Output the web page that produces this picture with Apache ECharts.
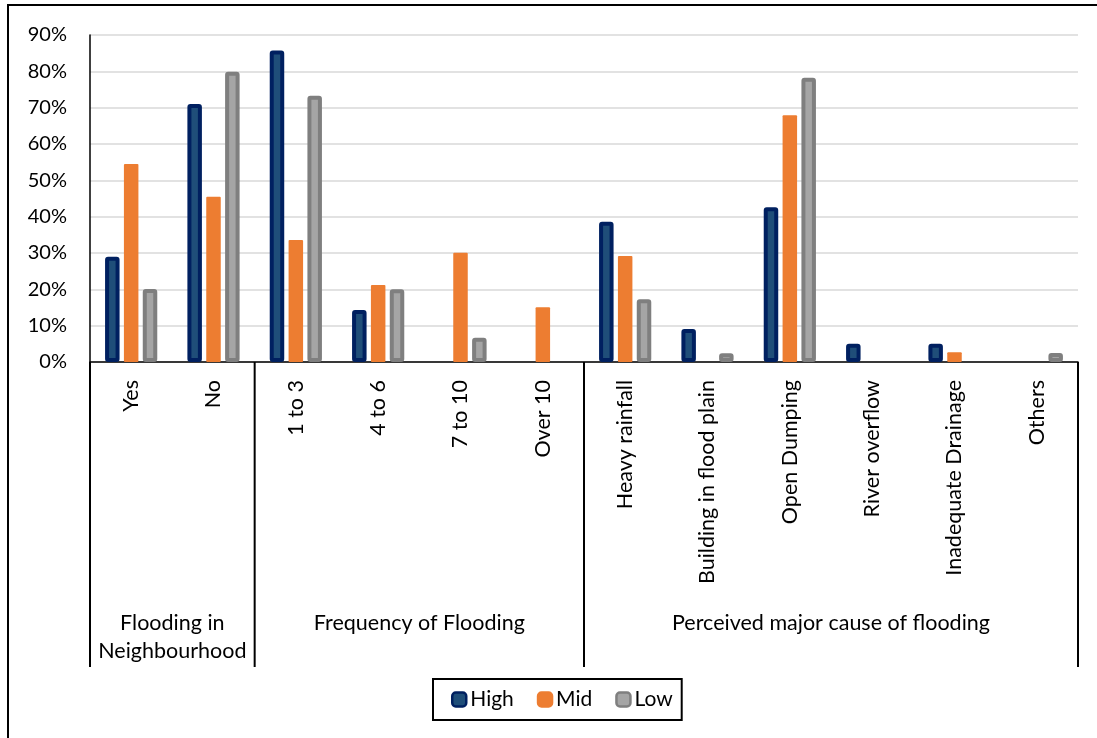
<!DOCTYPE html>
<html>
<head>
<meta charset="utf-8">
<script src="https://cdn.jsdelivr.net/npm/echarts@6/dist/echarts.min.js"></script>
<style>
  html, body { margin: 0; padding: 0; background: #fff; }
  #chart { width: 1097px; height: 738px; }
</style>
</head>
<body>
<div id="chart"></div>
<script>
// Survey categories (lower axis level) and their parent groups (upper level)
const categories = ['Yes', 'No', '1 to 3', '4 to 6', '7 to 10', 'Over 10',
  'Heavy rainfall', 'Building in flood plain', 'Open Dumping',
  'River overflow', 'Inadequate Drainage', 'Others'];
const groupLabels = ['Flooding in\nNeighbourhood', 'Frequency of Flooding', 'Perceived major cause of flooding'];
const groupSizes = [2, 4, 6];

// Share of respondents (%) per risk zone
const seriesNames = ['High', 'Mid', 'Low'];
const highValues = [29.0, 71.0, 85.7, 14.3, 0, 0, 38.6, 9.1, 42.6, 5.0, 5.0, 0];
const midValues  = [54.5, 45.5, 33.6, 21.2, 30.1, 15.1, 29.2, 0, 67.9, 0, 2.7, 0];
const lowValues  = [20.1, 79.9, 73.3, 20.0, 6.7, 0, 17.3, 2.4, 78.2, 0, 0, 2.5];

// Y axis ticks
const yMin = 0, yMax = 90, yStep = 10;

const FONT = 'Lato, "Liberation Sans", sans-serif';
const chart = echarts.init(document.getElementById('chart'), null, { renderer: 'canvas' });

// empty categories draw no bar at all
const toBars = arr => arr.map(v => (v === 0 ? null : v));

const styles = [
  { color: '#1F4E79', borderColor: '#002060', borderWidth: 4 },
  { color: '#ED7D31', borderColor: '#ED7D31', borderWidth: 0 },
  { color: '#A5A5A5', borderColor: '#7F7F7F', borderWidth: 4 }
];
const valueSets = [highValues, midValues, lowValues];

const grid = { left: 90, right: 19, top: 35, bottom: 376 };

chart.setOption({
  animation: false,
  backgroundColor: '#fff',
  textStyle: { fontFamily: FONT },
  grid: grid,
  legend: {
    data: seriesNames,
    left: 433,
    top: 679,
    orient: 'horizontal',
    itemWidth: 14,
    itemHeight: 14,
    itemGap: 23,
    padding: [10, 9, 10, 18],
    borderColor: '#000',
    borderWidth: 2,
    textStyle: { fontFamily: FONT, fontSize: 21, color: '#000', padding: [0, 0, 0, -1] },
    itemStyle: { borderWidth: 2.5 }
  },
  xAxis: {
    type: 'category',
    data: categories,
    axisLine: { show: true, lineStyle: { color: '#000', width: 1.5 } },
    axisTick: { show: false },
    splitLine: { show: false },
    axisLabel: {
      interval: 0,
      rotate: 90,
      margin: 18,
      fontFamily: FONT,
      fontSize: 21.5,
      color: '#000'
    }
  },
  yAxis: {
    type: 'value',
    min: yMin,
    max: yMax,
    interval: yStep,
    axisLine: { show: true, lineStyle: { color: '#000', width: 1.5 } },
    axisTick: { show: false },
    splitLine: { show: true, lineStyle: { color: '#D9D9D9', width: 1.5 } },
    axisLabel: {
      formatter: '{value}%',
      margin: 23,
      fontFamily: FONT,
      fontSize: 20,
      color: '#000'
    }
  },
  series: seriesNames.map((name, i) => ({
    name: name,
    type: 'bar',
    data: toBars(valueSets[i]),
    barWidth: 14.5,
    barGap: '30%',
    barCategoryGap: '36%',
    itemStyle: Object.assign({ borderJoin: 'round', borderRadius: 1 }, styles[i])
  }))
});

// Second axis level: group labels and separators, placed with the category scale
function categoryX(idx) {
  return chart.convertToPixel({ xAxisIndex: 0 }, categories[idx]);
}
const band = categoryX(1) - categoryX(0);
const axisY = chart.convertToPixel({ yAxisIndex: 0 }, yMin);
const sepBottom = 667;

const graphics = [];
// outer chart frame
graphics.push({
  type: 'rect',
  shape: { x: 8, y: 5, width: 1120, height: 800 },
  style: { fill: null, stroke: '#000', lineWidth: 2 },
  silent: true
});

let start = 0;
const boundaries = [categoryX(0) - band / 2];
groupSizes.forEach((size, g) => {
  const left = categoryX(start) - band / 2;
  const right = categoryX(start + size - 1) + band / 2;
  boundaries.push(right);
  const twoLines = groupLabels[g].indexOf('\n') >= 0;
  graphics.push({
    type: 'text',
    x: (left + right) / 2,
    y: twoLines ? 637.5 : 623,
    style: {
      text: groupLabels[g],
      fill: '#000',
      font: '21.5px ' + FONT,
      align: 'center',
      verticalAlign: 'middle',
      lineHeight: 28
    },
    silent: true
  });
  start += size;
});
boundaries.forEach(x => {
  graphics.push({
    type: 'line',
    shape: { x1: x, y1: axisY, x2: x, y2: sepBottom },
    style: { stroke: '#000', lineWidth: 2 },
    silent: true
  });
});

chart.setOption({ graphic: graphics });
</script>
</body>
</html>
